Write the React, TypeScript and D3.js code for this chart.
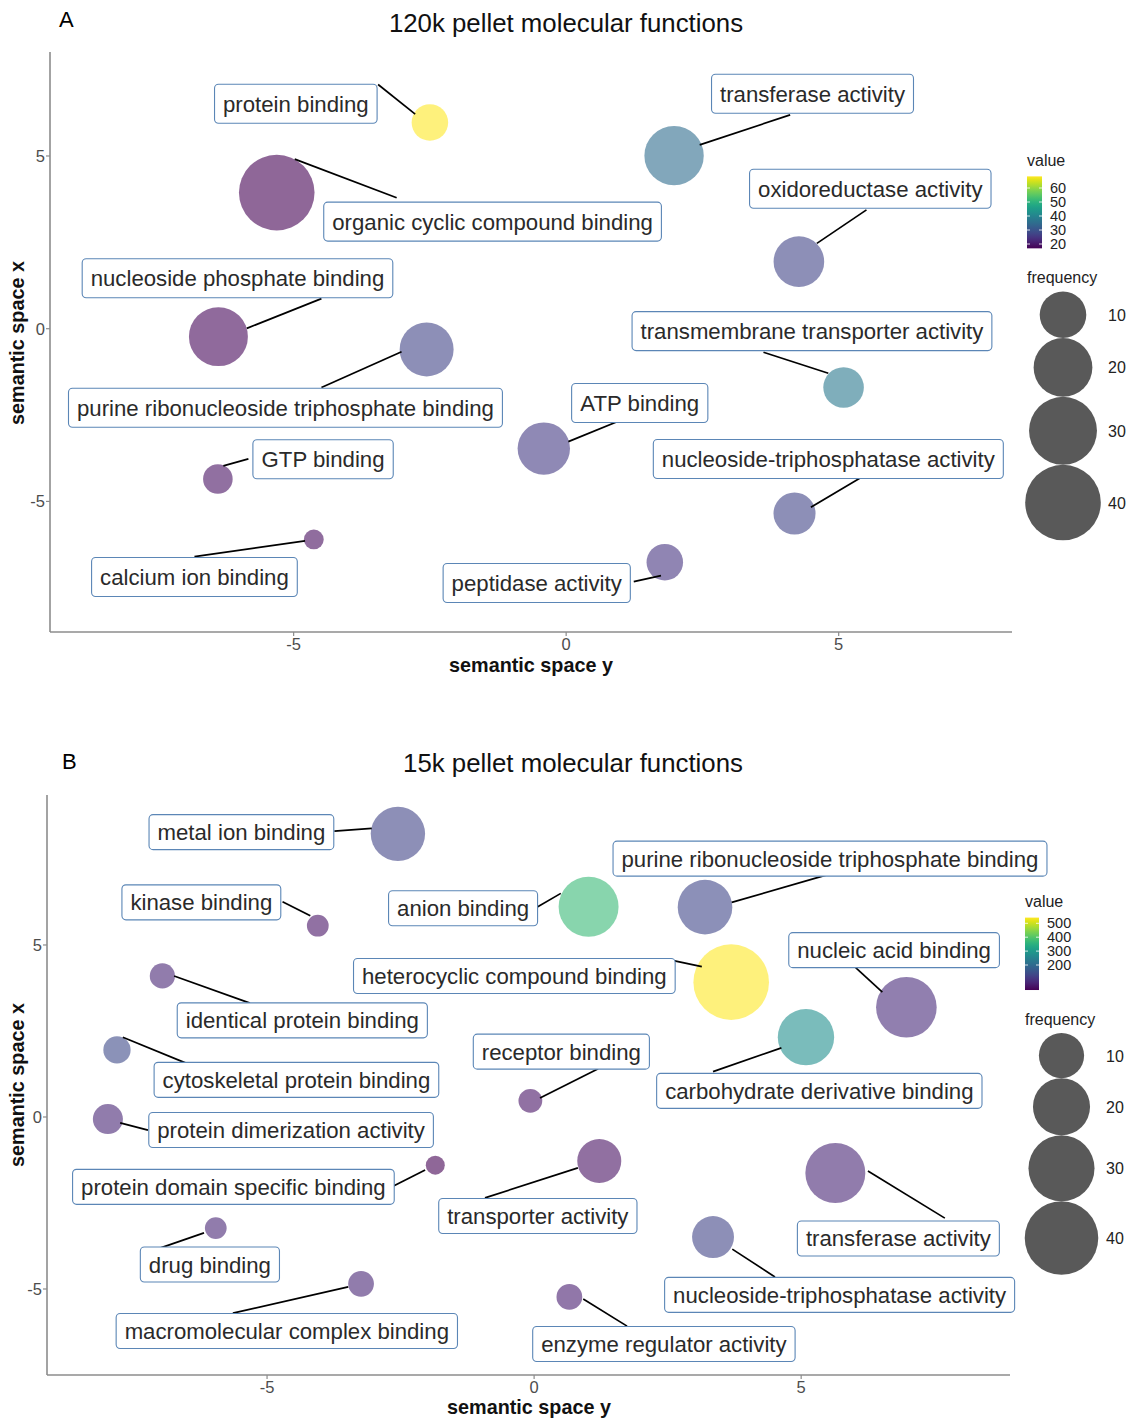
import React from "react";
import * as d3 from "d3";

// ---------- Panel A: 120k pellet ----------
const termsA = [
  "protein binding", "transferase activity", "organic cyclic compound binding", "oxidoreductase activity",
  "nucleoside phosphate binding", "purine ribonucleoside triphosphate binding", "transmembrane transporter activity",
  "ATP binding", "GTP binding", "nucleoside-triphosphatase activity", "calcium ion binding", "peptidase activity",
];
// horizontal axis = semantic space y, vertical axis = semantic space x
const semYA = [-2.5, 1.98, -5.31, 4.27, -6.38, -2.56, 5.09, -0.41, -6.39, 4.19, -4.63, 1.81];
const semXA = [5.97, 5.01, 3.94, 1.94, -0.23, -0.6, -1.7, -3.47, -4.35, -5.35, -6.1, -6.76];
const freqA = [4.5, 20.6, 40, 12.9, 20.2, 15.6, 6.4, 14.3, 2.2, 7.2, 1, 4.5];
const valueA = [68.3, 34.9, 16.9, 27.2, 17.9, 27.2, 37.5, 25.6, 19.0, 27.2, 18.4, 24.6];
// repelled label centres
const labelYA = [-4.96, 4.52, -1.35, 5.58, -6.03, -5.15, 4.51, 1.35, -4.46, 4.81, -6.82, -0.54];
const labelXA = [6.51, 6.8, 3.1, 4.05, 1.46, -2.29, -0.07, -2.15, -3.78, -3.77, -7.19, -7.36];
// segment start (on label) and end (at bubble)
const segYA = [-3.45, 4.11, -3.11, 5.51, -4.49, -4.49, 3.62, 1.08, -5.83, 5.41, -6.82, 1.24];
const segXA = [7.07, 6.19, 3.79, 3.44, 0.87, -1.7, -0.68, -2.6, -3.77, -4.31, -6.6, -7.32];
const endYA = [-2.77, 2.45, -4.98, 4.6, -5.86, -3.02, 4.81, 0.04, -6.29, 4.49, -4.79, 1.74];
const endXA = [6.21, 5.32, 4.91, 2.47, 0.01, -0.67, -1.29, -3.27, -3.97, -5.17, -6.14, -7.15];
const valueBreaksA = [20, 30, 40, 50, 60];

// ---------- Panel B: 15k pellet ----------
const termsB = [
  "metal ion binding", "kinase binding", "anion binding", "purine ribonucleoside triphosphate binding",
  "heterocyclic compound binding", "identical protein binding", "nucleic acid binding", "cytoskeletal protein binding",
  "carbohydrate derivative binding", "receptor binding", "protein dimerization activity",
  "protein domain specific binding", "transporter activity", "transferase activity", "drug binding",
  "nucleoside-triphosphatase activity", "macromolecular complex binding", "enzyme regulator activity",
];
const semYB = [-2.55, -4.05, 1.02, 3.2, 3.69, -6.96, 6.97, -7.81, 5.09, -0.07, -7.98, -1.85, 1.22, 5.64, -5.96, 3.35, -3.24, 0.66];
const semXB = [8.23, 5.56, 6.11, 6.1, 3.92, 4.1, 3.19, 1.95, 2.32, 0.47, -0.06, -1.4, -1.28, -1.63, -3.23, -3.49, -4.85, -5.23];
const freqB = [17.4, 1.1, 23, 17.6, 43, 1.5, 23.7, 1.9, 19.3, 1.3, 2.6, 1, 9.2, 23, 1.1, 7.9, 1.6, 1.6];
const valueB = [124, 46, 372, 129, 541, 72, 83, 135, 280, 46, 72, 20, 41, 72, 72, 124, 72, 62];
const labelYB = [-5.48, -6.23, -1.33, 5.54, -0.37, -4.34, 6.74, -4.45, 5.34, 0.51, -4.55, -5.63, 0.07, 6.82, -6.07, 5.72, -4.63, 2.43];
const labelXB = [8.28, 6.24, 6.07, 7.51, 4.1, 2.81, 4.85, 1.08, 0.76, 1.9, -0.38, -2.03, -2.88, -3.53, -4.29, -5.17, -6.22, -6.6];
const segYB = [-3.74, -4.71, 0.02, 5.53, 2.63, -5.32, 6.02, -6.46, 3.35, 1.2, -7.23, -2.66, -0.92, 7.69, -7.06, 4.51, -5.64, 1.74];
const segXB = [8.31, 6.26, 6.07, 7.06, 4.54, 3.31, 4.34, 1.53, 1.32, 1.4, -0.38, -2.03, -2.35, -2.94, -3.84, -4.65, -5.7, -6.08];
const endYB = [-3.04, -4.19, 0.5, 3.7, 3.14, -6.74, 6.52, -7.7, 4.63, 0.11, -7.75, -2.04, 0.82, 6.25, -6.18, 3.71, -3.48, 0.92];
const endXB = [8.39, 5.85, 6.5, 6.24, 4.37, 4.1, 3.63, 2.32, 2.01, 0.55, -0.17, -1.54, -1.48, -1.57, -3.37, -3.84, -4.94, -5.29];
const valueBreaksB = [200, 300, 400, 500];

const axisTicks = [-5, 0, 5];
const freqBreaks = [10, 20, 30, 40];

const FONT = "'Liberation Sans', Arial, sans-serif";
const LABEL_SIZE = 22.2;
const LABEL_PAD = 8.5;

let measureCtx: CanvasRenderingContext2D | null = null;
function textWidth(s: string, size: number) {
  if (!measureCtx) measureCtx = document.createElement("canvas").getContext("2d");
  if (!measureCtx) return s.length * size * 0.5;
  measureCtx.font = `${size}px ${FONT}`;
  return measureCtx.measureText(s).width;
}

type PanelData = {
  terms: string[]; sx: number[]; sy: number[]; freq: number[]; value: number[];
  lx: number[]; ly: number[]; gx: number[]; gy: number[]; ex: number[]; ey: number[]; valueBreaks: number[];
};

type PanelCfg = {
  tag: string; title: string; tagX: number; tagY: number; titleX: number; titleY: number;
  xDomain: [number, number]; xRange: [number, number];
  yDomain: [number, number]; yRange: [number, number];
  rRange: [number, number]; boxH: number;
  cbX: number; cbW: number; cbRefVals: [number, number]; cbRefY: [number, number]; valueTitleY: number;
  freqTitleY: number; freqTop: number; freqCx: number; freqLabelX: number;
  xTitleX: number; xTitleY: number; yTitleY: number;
};

function Panel({ d, c, id }: { d: PanelData; c: PanelCfg; id: string }) {
  const x = d3.scaleLinear().domain(c.xDomain).range(c.xRange);
  const y = d3.scaleLinear().domain(c.yDomain).range(c.yRange);
  const [fmin, fmax] = d3.extent(d.freq) as [number, number];
  const [vmin, vmax] = d3.extent(d.value) as [number, number];
  const norm = d3.scaleLinear().domain([fmin, fmax]).range([0, 1]).clamp(true);
  const r = (f: number) => c.rRange[0] + (c.rRange[1] - c.rRange[0]) * Math.sqrt(norm(f));
  const color = d3.scaleSequential(d3.interpolateViridis).domain([vmin, vmax]);
  const cb = d3.scaleLinear().domain(c.cbRefVals).range(c.cbRefY);

  const order = d3.range(d.terms.length);
  const axisColor = "#8c8c8c";
  const tickColor = "#4d4d4d";

  let yAcc = c.freqTop;
  const keys = freqBreaks.map((f) => {
    const rr = r(f);
    const cy = yAcc + rr;
    yAcc += 2 * rr;
    return { f, rr, cy };
  });

  const gradId = `grad-${id}`;
  const stops = d3.range(0, 1.0001, 0.05);

  return (
    <g fontFamily={FONT}>
      <text x={c.tagX} y={c.tagY} fontSize={22} fill="#000">{c.tag}</text>
      <text x={c.titleX} y={c.titleY} fontSize={25.8} textAnchor="middle" fill="#111">{c.title}</text>

      {/* axes */}
      <line x1={c.xRange[0]} x2={c.xRange[1]} y1={c.yRange[0]} y2={c.yRange[0]} stroke={axisColor} strokeWidth={1.6} />
      <line x1={c.xRange[0]} x2={c.xRange[0]} y1={c.yRange[0]} y2={c.yRange[1]} stroke={axisColor} strokeWidth={1.6} />
      {axisTicks.map((t) => (
        <g key={`xt${t}`}>
          <line x1={x(t)} x2={x(t)} y1={c.yRange[0]} y2={c.yRange[0] + 4} stroke={axisColor} strokeWidth={1.2} />
          <text x={x(t)} y={c.yRange[0] + 17.5} fontSize={16.5} textAnchor="middle" fill={tickColor}>{String(t)}</text>
        </g>
      ))}
      {axisTicks.map((t) => (
        <g key={`yt${t}`}>
          <line x1={c.xRange[0] - 4} x2={c.xRange[0]} y1={y(t)} y2={y(t)} stroke={axisColor} strokeWidth={1.2} />
          <text x={c.xRange[0] - 5} y={y(t) + 6} fontSize={16.5} textAnchor="end" fill={tickColor}>{String(t)}</text>
        </g>
      ))}
      <text x={c.xTitleX} y={c.xTitleY} fontSize={19.8} fontWeight="bold" textAnchor="middle" fill="#111">semantic space y</text>
      <text transform={`translate(24,${c.yTitleY}) rotate(-90)`} fontSize={19.8} fontWeight="bold" textAnchor="middle" fill="#111">semantic space x</text>

      {/* bubbles */}
      {order.map((i) => (
        <circle key={`c${i}`} cx={x(d.sx[i])} cy={y(d.sy[i])} r={r(d.freq[i])} fill={color(d.value[i])} fillOpacity={0.6} />
      ))}

      {/* segments */}
      {order.map((i) => (
        <line key={`s${i}`} x1={x(d.gx[i])} y1={y(d.gy[i])} x2={x(d.ex[i])} y2={y(d.ey[i])} stroke="#000" strokeWidth={1.7} />
      ))}

      {/* labels */}
      {order.map((i) => {
        const w = textWidth(d.terms[i], LABEL_SIZE) + 2 * LABEL_PAD;
        const cx = x(d.lx[i]), cy = y(d.ly[i]);
        return (
          <g key={`l${i}`}>
            <rect x={cx - w / 2} y={cy - c.boxH / 2} width={w} height={c.boxH} rx={4} ry={4}
              fill="#fff" stroke="#5b86b6" strokeWidth={1.1} />
            <text x={cx} y={cy + LABEL_SIZE * 0.36} fontSize={LABEL_SIZE} textAnchor="middle" fill="#2a2a2a">{d.terms[i]}</text>
          </g>
        );
      })}

      {/* legend: value */}
      <text x={c.cbX} y={c.valueTitleY} fontSize={16} fill="#222">value</text>
      <defs>
        <linearGradient id={gradId} x1="0" y1="1" x2="0" y2="0">
          {stops.map((s) => (
            <stop key={s} offset={`${s * 100}%`} stopColor={d3.interpolateViridis(s)} />
          ))}
        </linearGradient>
      </defs>
      <rect x={c.cbX} y={cb(vmax)} width={c.cbW} height={cb(vmin) - cb(vmax)} fill={`url(#${gradId})`} />
      {d.valueBreaks.map((v) => (
        <g key={`vb${v}`}>
          <line x1={c.cbX} x2={c.cbX + 3} y1={cb(v)} y2={cb(v)} stroke="#fff" strokeWidth={0.8} />
          <line x1={c.cbX + c.cbW - 3} x2={c.cbX + c.cbW} y1={cb(v)} y2={cb(v)} stroke="#fff" strokeWidth={0.8} />
          <text x={c.cbX + c.cbW + 8} y={cb(v) + 5} fontSize={14.5} fill="#222">{String(v)}</text>
        </g>
      ))}

      {/* legend: frequency */}
      <text x={c.cbX} y={c.freqTitleY} fontSize={16} fill="#222">frequency</text>
      {keys.map((k) => (
        <g key={`fk${k.f}`}>
          <circle cx={c.freqCx} cy={k.cy} r={k.rr} fill="#595959" />
          <text x={c.freqLabelX} y={k.cy + 6} fontSize={16} fill="#222">{String(k.f)}</text>
        </g>
      ))}
    </g>
  );
}

const dataA: PanelData = { terms: termsA, sx: semYA, sy: semXA, freq: freqA, value: valueA, lx: labelYA, ly: labelXA, gx: segYA, gy: segXA, ex: endYA, ey: endXA, valueBreaks: valueBreaksA };
const dataB: PanelData = { terms: termsB, sx: semYB, sy: semXB, freq: freqB, value: valueB, lx: labelYB, ly: labelXB, gx: segYB, gy: segXB, ex: endYB, ey: endXB, valueBreaks: valueBreaksB };

const cfgA: PanelCfg = {
  tag: "A", title: "120k pellet molecular functions", tagX: 59, tagY: 27, titleX: 566, titleY: 32,
  xDomain: [-9.47, 8.18], xRange: [50, 1012], yDomain: [-8.78, 8.01], yRange: [632, 52],
  rRange: [9.9, 37.8], boxH: 39,
  cbX: 1027, cbW: 15, cbRefVals: [20, 60], cbRefY: [244, 188], valueTitleY: 166,
  freqTitleY: 283, freqTop: 291.5, freqCx: 1063, freqLabelX: 1108,
  xTitleX: 531, xTitleY: 672, yTitleY: 343,
};
const cfgB: PanelCfg = {
  tag: "B", title: "15k pellet molecular functions", tagX: 62, tagY: 769, titleX: 573, titleY: 772,
  xDomain: [-9.12, 8.91], xRange: [47, 1010], yDomain: [-7.5, 9.36], yRange: [1375, 795],
  rRange: [9.5, 37.8], boxH: 35,
  cbX: 1025, cbW: 14, cbRefVals: [200, 500], cbRefY: [965, 923.3], valueTitleY: 907,
  freqTitleY: 1025, freqTop: 1033, freqCx: 1061.5, freqLabelX: 1106,
  xTitleX: 529, xTitleY: 1414, yTitleY: 1085,
};

export default function App() {
  return (
    <svg width={1131} height={1419} style={{ position: "absolute", left: 0, top: 0, background: "#fff" }}>
      <rect width={1131} height={1419} fill="#fff" />
      <Panel d={dataA} c={cfgA} id="a" />
      <Panel d={dataB} c={cfgB} id="b" />
    </svg>
  );
}
